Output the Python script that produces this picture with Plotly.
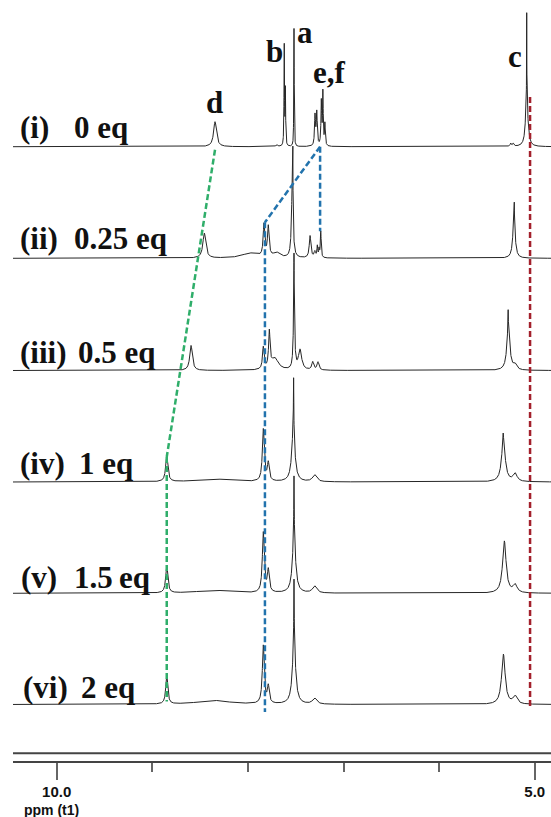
import numpy as np
import plotly.graph_objects as go

# ---------------- data ----------------
ROMAN = ["(i)", "(ii)", "(iii)", "(iv)", "(v)", "(vi)"]
EQUIV = ["0 eq", "0.25 eq", "0.5 eq", "1 eq", "1.5\u2009eq", "2 eq"]

# peak tables: (chemical shift ppm, height, half-width ppm)
PEAKS_I = [(8.344, 25, 0.018), (7.70, 2, 0.01), (7.620, 100, 0.003), (7.608, 55, 0.003),
           (7.518, 118, 0.0025), (7.298, 30, 0.006), (7.280, 33, 0.006),
           (7.232, 44, 0.005), (7.216, 52, 0.004), (7.195, 22, 0.005),
           (5.252, 3, 0.008), (5.225, 3, 0.008), (5.084, 52, 0.014), (5.084, 82, 0.0012)]
PEAKS_II = [(8.456, 25, 0.018), (7.978, 5, 0.10), (7.70, 5, 0.04), (7.832, 32, 0.010),
            (7.787, 30, 0.010), (7.536, 70, 0.010), (7.530, 60, 0.0015),
            (7.350, 22, 0.010), (7.300, 6, 0.010), (7.274, 11, 0.005), (7.256, 8, 0.005),
            (7.238, 26, 0.005), (5.217, 42, 0.014), (5.214, 16, 0.0015)]
PEAKS_III = [(8.595, 25, 0.016), (7.839, 22, 0.010), (7.776, 36, 0.009), (7.72, 12, 0.045),
             (7.518, 70, 0.008), (7.518, 45, 0.0015), (7.455, 20, 0.02),
             (7.322, 8, 0.012), (7.267, 8, 0.012),
             (5.276, 45, 0.018), (5.278, 16, 0.0015), (5.206, 5, 0.02)]
PEAKS_IV = [(8.849, 25, 0.014), (8.36, 3, 0.2), (7.839, 52, 0.012), (7.787, 18, 0.012),
            (7.525, 50, 0.02), (7.522, 55, 0.0025), (7.303, 7, 0.025),
            (5.328, 43, 0.022), (5.330, 6, 0.002), (5.206, 8, 0.025)]
PEAKS_V = [(8.849, 27, 0.013), (8.36, 3, 0.2), (7.839, 60, 0.012), (7.787, 22, 0.012),
           (7.518, 55, 0.02), (7.518, 62, 0.0025), (7.303, 7, 0.025),
           (5.318, 52, 0.022), (5.206, 8, 0.025)]
PEAKS_VI = [(8.849, 29, 0.012), (8.36, 4, 0.2), (7.839, 58, 0.012), (7.787, 17, 0.012),
            (7.518, 60, 0.02), (7.518, 65, 0.0025), (7.303, 6, 0.025),
            (5.328, 50, 0.022), (5.206, 8, 0.025)]
SPECTRA = [PEAKS_I, PEAKS_II, PEAKS_III, PEAKS_IV, PEAKS_V, PEAKS_VI]

PEAK_LETTERS = ["a", "b", "c", "d", "e,f"]
PPM_TICKS = [10.0, 5.0]
PPM_TICK_TEXT = ["10.0", "5.0"]
PPM_MINOR = [9.0, 8.0, 7.0, 6.0]

# guide lines (ppm)
D_START, D_END = 8.344, 8.849
EF_SHIFT, B_SHIFT = 7.245, 7.822
C_REF = 5.049

# ---------------- layout constants ----------------
W, H = 551, 817
ML, MB = 13, 56
PLOT_H = H - MB
X_RANGE = [10.457, 4.830]
OFFSETS = [614.3, 502.7, 390.5, 279.0, 167.7, 56.5]


def pp(x, y):
    """pixel -> paper coords"""
    return (x - ML) / (W - ML), (PLOT_H - y) / PLOT_H


fig = go.Figure()

grid = np.linspace(X_RANGE[0], X_RANGE[1], 9000)
for peaks, off in zip(SPECTRA, OFFSETS):
    xs = np.union1d(grid, [p[0] for p in peaks])[::-1]
    ys = np.full_like(xs, off)
    for c, h, w in peaks:
        ys = ys + h * w * w / ((xs - c) ** 2 + w * w)
    fig.add_trace(go.Scatter(x=xs, y=ys, mode="lines",
                             line=dict(color="#262626", width=1), hoverinfo="skip",
                             showlegend=False))

dash = "6px,3px"
green, blue, red = "#2fae6a", "#2273ad", "#a3202c"
shapes = [
    dict(type="line", x0=D_START, y0=OFFSETS[0] - 3, x1=D_END, y1=OFFSETS[3] + 25,
         line=dict(color=green, width=2.5, dash=dash)),
    dict(type="line", x0=D_END, y0=OFFSETS[3] + 25, x1=D_END, y1=OFFSETS[5] + 3,
         line=dict(color=green, width=2.5, dash=dash)),
    dict(type="line", x0=EF_SHIFT, y0=OFFSETS[0], x1=EF_SHIFT, y1=OFFSETS[1] + 27,
         line=dict(color=blue, width=2.5, dash=dash)),
    dict(type="line", x0=EF_SHIFT, y0=OFFSETS[0], x1=B_SHIFT, y1=OFFSETS[1] + 36,
         line=dict(color=blue, width=2.5, dash=dash)),
    dict(type="line", x0=B_SHIFT, y0=OFFSETS[1] + 36, x1=B_SHIFT, y1=OFFSETS[5] - 7.5,
         line=dict(color=blue, width=2.5, dash=dash)),
    dict(type="line", x0=C_REF, y0=664, x1=C_REF, y1=54,
         line=dict(color=red, width=2.5, dash=dash)),
    dict(type="line", xref="paper", x0=0, x1=1, y0=7.7, y1=7.7,
         line=dict(color="#444444", width=2)),
]

annotations = []
serif = dict(family="Liberation Serif, Times New Roman, serif", size=31, color="#111111", weight="bold")
roman_x = [17.6, 17.6, 17.6, 17.6, 19.3, 21.0]
eq_x = [72, 72, 75.5, 77.3, 72, 79]
label_y = [127, 238, 352, 463, 577, 687]
for r, e, rx, ex, ly in zip(ROMAN, EQUIV, roman_x, eq_x, label_y):
    x, y = pp(rx, ly)
    annotations.append(dict(text=r, x=x, y=y, xref="paper", yref="paper", xanchor="left",
                            yanchor="middle", showarrow=False, font=serif))
    x, y = pp(ex, ly)
    annotations.append(dict(text=e, x=x, y=y, xref="paper", yref="paper", xanchor="left",
                            yanchor="middle", showarrow=False, font=serif))

letter_pos = [(305, 33), (274.4, 51.5), (515, 56.5), (214.3, 103), (329.4, 72.8)]
for t, (lx, ly) in zip(PEAK_LETTERS, letter_pos):
    x, y = pp(lx, ly)
    annotations.append(dict(text=t, x=x, y=y, xref="paper", yref="paper", xanchor="center",
                            yanchor="middle", showarrow=False, font=serif))

x, y = pp(51.7, 810)
annotations.append(dict(text="ppm (t1)", x=x, y=y, xref="paper", yref="paper",
                        xanchor="center", yanchor="middle", showarrow=False,
                        font=dict(family="Liberation Sans, Arial, sans-serif", size=14,
                                  color="#111111", weight="bold")))

fig.update_layout(
    width=W, height=H, margin=dict(l=ML, r=0, t=0, b=MB),
    paper_bgcolor="white", plot_bgcolor="white",
    shapes=shapes, annotations=annotations,
    xaxis=dict(range=X_RANGE, showgrid=False, zeroline=False,
               showline=True, linecolor="#444444", linewidth=2,
               ticks="outside", tickvals=PPM_TICKS, ticktext=PPM_TICK_TEXT,
               ticklen=17, tickwidth=1.5, tickcolor="#666666",
               ticklabelstandoff=-1,
               tickfont=dict(family="Liberation Sans, Arial, sans-serif", size=15,
                             color="#111111", weight="bold"),
               minor=dict(tickvals=PPM_MINOR, ticks="outside", ticklen=9,
                          tickwidth=1.5, tickcolor="#666666")),
    yaxis=dict(range=[0, PLOT_H], visible=False, showgrid=False, zeroline=False),
)

fig.write_html("out.html", config={"displayModeBar": False},
               post_script="document.body.style.margin='0';document.body.style.overflow='hidden';")
